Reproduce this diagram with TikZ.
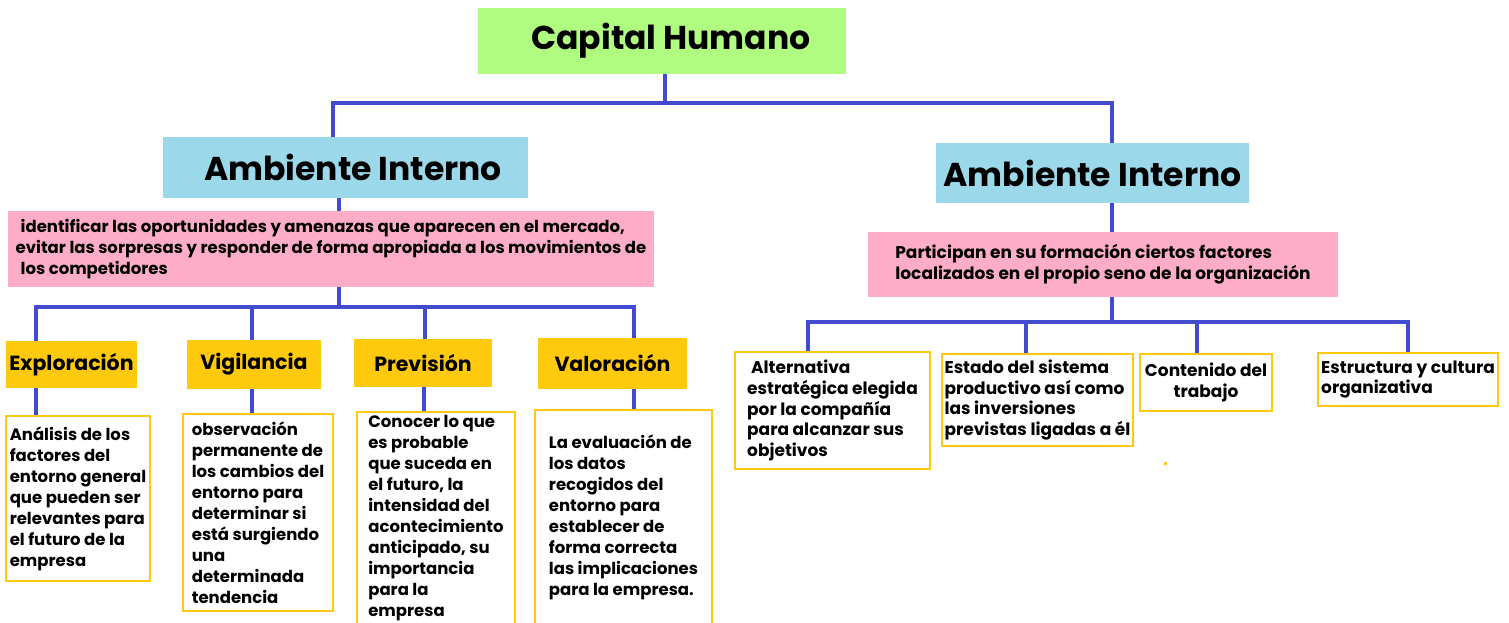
\documentclass[tikz,border=0pt]{standalone}
\usepackage{fontspec}
\setmainfont{Poppins}
\definecolor{capgreen}{RGB}{176,252,128}
\definecolor{ambblue}{RGB}{155,217,234}
\definecolor{rosa}{RGB}{253,173,200}
\definecolor{amarillo}{RGB}{255,201,14}
\definecolor{linea}{RGB}{66,74,206}
\tikzset{
  titlebox/.style={fill=capgreen, inner sep=0pt, minimum width=368pt, minimum height=66pt,
    font=\fontsize{33}{40}\selectfont\bfseries},
  blubox/.style={fill=ambblue, inner sep=0pt, font=\fontsize{33}{38}\selectfont\bfseries},
  pinkbox/.style={fill=rosa, inner sep=0pt, align=left, font=\fontsize{16.5}{21}\selectfont\bfseries},
  ybox/.style={fill=amarillo, inner sep=0pt, font=\fontsize{20.5}{24}\selectfont\bfseries},
  wbox/.style={draw=amarillo, line width=2pt, fill=white, inner sep=0pt, align=left,
    font=\fontsize{16.5}{21}\selectfont\bfseries},
  rtext/.style={font=\fontsize{17}{20.8}\selectfont\bfseries},
  conn/.style={draw=linea, line width=4pt, line join=miter}
}
\begin{document}
\begin{tikzpicture}[x=1pt,y=-1pt]
\fill[white] (0,0) rectangle (1509,623);
\useasboundingbox (0,0) rectangle (1509,623);

% top level
\node[titlebox] (cap) at (662,41) {\hspace{18pt}Capital Humano};
\node[blubox, minimum width=365pt, minimum height=61pt] (lb) at (345.5,167.5) {\hspace{15pt}Ambiente Interno};
\node[blubox, minimum width=313pt, minimum height=60pt] (rb) at (1092.5,173) {Ambiente Interno};

\node[pinkbox, minimum width=646pt, minimum height=76pt] (lp) at (331,249)
  {\hspace{5pt}identificar las oportunidades y amenazas que aparecen en el mercado,\\
   evitar las sorpresas y responder de forma apropiada a los movimientos de\\
   \hspace{5pt}los competidores};
\node[pinkbox, rtext, minimum width=470pt, minimum height=65pt] (rp) at (1103,264.5)
  {Participan en su formación ciertos factores\\
   localizados en el propio seno de la organización};

% yellow headings
\node[ybox, minimum width=131pt, minimum height=47pt] (ex) at (71.5,364.5) {Exploración};
\node[ybox, minimum width=134pt, minimum height=49pt] (vi) at (254,364.5) {Vigilancia};
\node[ybox, minimum width=138pt, minimum height=48pt] (pr) at (423,363) {Previsión};
\node[ybox, minimum width=149pt, minimum height=51pt] (va) at (612.5,363.5) {Valoración};

% white boxes, left
\node[wbox, minimum width=144pt, minimum height=165pt] (w1) at (78,498.5)
  {Análisis de los\\factores del\\entorno general\\que pueden ser\\relevantes para\\el futuro de la\\empresa};
\node[wbox, minimum width=150pt, minimum height=197pt] (w2) at (258,512.5)
  {observación\\permanente de\\los cambios del\\entorno para\\determinar si\\está surgiendo\\una\\determinada\\tendencia};
\node[wbox, minimum width=158pt, minimum height=213pt] (w3) at (436,518.5)
  {Conocer lo que\\es probable\\que suceda en\\el futuro, la\\intensidad del\\acontecimiento\\anticipado, su\\importancia\\para la\\empresa};
\node[wbox, minimum width=177pt, minimum height=215pt] (w4) at (623.5,517.5)
  {La evaluación de\\los datos\\recogidos del\\entorno para\\establecer de\\forma correcta\\las implicaciones\\para la empresa.};

% white boxes, right
\node[wbox, rtext, minimum width=195pt, minimum height=117pt] (ra) at (832.5,410.5)
  {\hspace{4pt}Alternativa\\estratégica elegida\\por la compañía\\para alcanzar sus\\objetivos};
\node[wbox, rtext, minimum width=191pt, minimum height=92pt] (rsb) at (1037.5,400)
  {Estado del sistema\\productivo así como\\las inversiones\\previstas ligadas a él};
\node[wbox, rtext, minimum width=132pt, minimum height=57pt, align=center] (rc) at (1206,382.5)
  {Contenido del\\trabajo};
\node[wbox, rtext, minimum width=180pt, minimum height=53pt] (rd) at (1408,379.5)
  {Estructura y cultura\\organizativa};

% junction points
\coordinate (bus1) at (665,103);
\coordinate (bus2) at (339,307);
\coordinate (bus3) at (1112,322);

% connectors, top
\draw[conn] (cap.south -| bus1) -- (bus1);
\draw[conn] ([xshift=-12.5pt]lb.north) |- (bus1);
\draw[conn] (rb.north -| bus3) |- (bus1);
\draw[conn] (lb.south -| bus2) -- (lp.north -| bus2);
\draw[conn] (rb.south -| bus3) -- (rp.north -| bus3);

% connectors, left branch
\draw[conn] (lp.south -| bus2) -- (bus2);
\draw[conn] ([xshift=-35.5pt]ex.north) |- (bus2);
\draw[conn] ([xshift=-2pt]vi.north) |- (bus2);
\draw[conn] ([xshift=2pt]pr.north) |- (bus2);
\draw[conn] ([xshift=21.5pt]va.north) |- (bus2);
\draw[conn] ([xshift=-35.5pt]ex.south) -- ([xshift=-42pt]w1.north);
\draw[conn] ([xshift=-2pt]vi.south) -- ([xshift=-6pt]w2.north);
\draw[conn] ([xshift=1pt]pr.south) -- ([xshift=-12pt]w3.north);
\draw[conn] ([xshift=21.5pt]va.south) -- ([xshift=10.5pt]w4.north);

% connectors, right branch
\draw[conn] (rp.south -| bus3) -- (bus3);
\draw[conn] ([xshift=-24.5pt]ra.north) |- (bus3);
\draw[conn] ([xshift=-11.5pt]rsb.north) |- (bus3);
\draw[conn] ([xshift=-9pt]rc.north) |- (bus3);
\draw[conn] (rd.north) |- (bus3);

% stray dot
\fill[amarillo] (1164,462) rectangle (1167,465);
\end{tikzpicture}
\end{document}
